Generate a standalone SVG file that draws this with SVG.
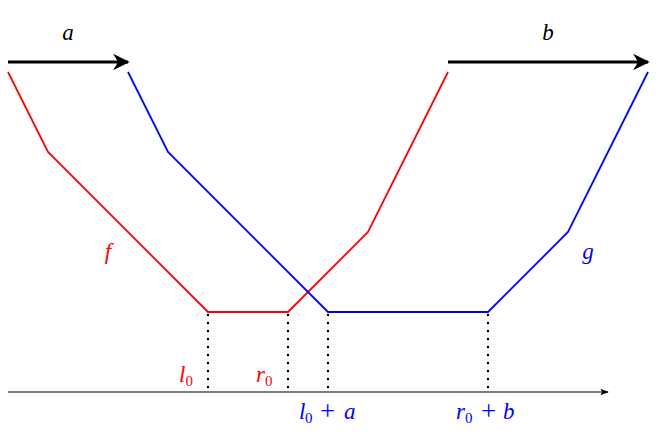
<svg xmlns="http://www.w3.org/2000/svg" width="658" height="448" viewBox="0 0 658 448">
<style>
.red{stroke:#ff0000;fill:none;stroke-width:1.8}
.blue{stroke:#0000ff;fill:none;stroke-width:1.8}
.dot{stroke:#000;stroke-width:2.4;stroke-dasharray:0 8;stroke-linecap:round}
.t{font-family:"Liberation Serif","DejaVu Serif",serif;font-style:italic;font-size:23px}
.s{font-size:15px}
.up{font-style:normal}
.plus{font-style:normal;font-size:27px}
</style>
<defs>
<marker id="ah" viewBox="0 0 10 10" refX="9" refY="5" markerWidth="5.5" markerHeight="5.5" markerUnits="strokeWidth" orient="auto">
<path d="M0,0 L10,5 L0,10 L3,5 Z" fill="#000"/>
</marker>
<marker id="ah2" viewBox="0 0 10 10" refX="9" refY="5" markerWidth="7" markerHeight="7" markerUnits="strokeWidth" orient="auto">
<path d="M0,1 L10,5 L0,9 L2,5 Z" fill="#000"/>
</marker>
</defs>
<g id="connectors">
<line x1="8" y1="62" x2="128" y2="62" stroke="#000" stroke-width="3" marker-end="url(#ah)"/>
<line x1="448" y1="62" x2="648" y2="62" stroke="#000" stroke-width="3" marker-end="url(#ah)"/>
<line x1="8" y1="392" x2="608" y2="392" stroke="#000" stroke-width="1.2" marker-end="url(#ah2)"/>
<line class="dot" x1="208" y1="315" x2="208" y2="390"/>
<line class="dot" x1="288" y1="315" x2="288" y2="390"/>
<line class="dot" x1="328" y1="315" x2="328" y2="390"/>
<line class="dot" x1="488" y1="315" x2="488" y2="390"/>
</g>
<g id="f">
<polyline class="red" points="8,72 48,152 208,312 288,312 368,232 448,72"/>
<text class="t" x="108" y="259" fill="#ff0000" text-anchor="middle">f</text>
</g>
<g id="g">
<polyline class="blue" points="128,72 168,152 328,312 488,312 568,232 648,72"/>
<text class="t" x="588" y="259" fill="#0000ff" text-anchor="middle">g</text>
</g>
<g id="label-a"><text class="t" x="68" y="40" fill="#000" text-anchor="middle">a</text></g>
<g id="label-b"><text class="t" x="548" y="40" fill="#000" text-anchor="middle">b</text></g>
<g id="label-l0"><text class="t" x="179" y="382" fill="#ff0000">l<tspan class="s up" dy="4">0</tspan></text></g>
<g id="label-r0"><text class="t" x="256" y="382" fill="#ff0000">r<tspan class="s up" dy="4">0</tspan></text></g>
<g id="label-l0a"><text class="t" x="299" y="419" fill="#0000ff">l<tspan class="s up" x="305" dy="4">0</tspan><tspan class="plus" x="320" dy="-3">+</tspan><tspan x="344" dy="-1">a</tspan></text></g>
<g id="label-r0b"><text class="t" x="456" y="419" fill="#0000ff">r<tspan class="s up" x="465" dy="4">0</tspan><tspan class="plus" x="481" dy="-3">+</tspan><tspan x="503" dy="-1">b</tspan></text></g>
</svg>
